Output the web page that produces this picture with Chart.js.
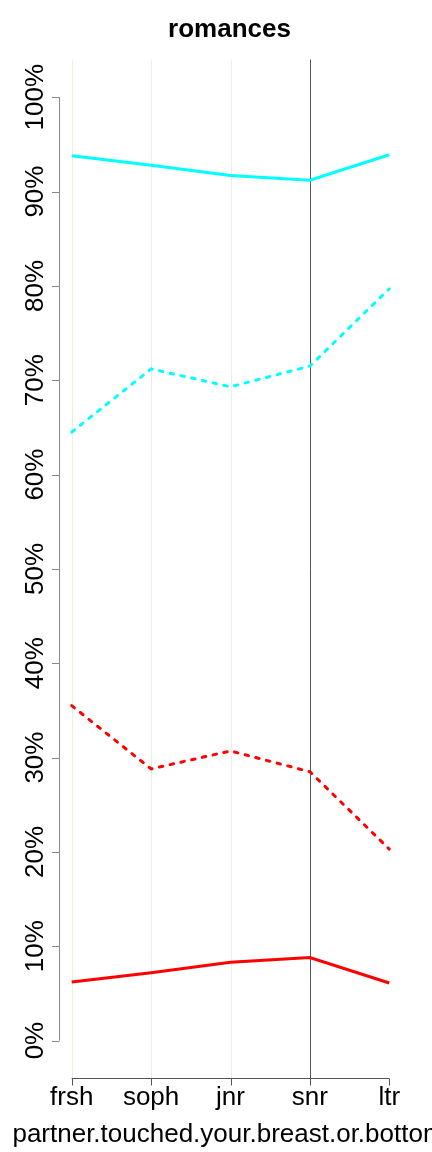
<!DOCTYPE html>
<html>
<head>
<meta charset="utf-8">
<script src="https://cdn.jsdelivr.net/npm/chart.js@4.4.0/dist/chart.umd.min.js"></script>
<style>
  html, body { margin: 0; padding: 0; background: #ffffff; }
  #wrap { width: 432px; height: 1152px; position: relative; }
</style>
</head>
<body>
<div id="wrap"><canvas id="c" width="432" height="1152"></canvas></div>
<script>
const categories = ['frsh', 'soph', 'jnr', 'snr', 'ltr'];
const cyanSolid  = [93.8, 92.8, 91.7, 91.2, 93.9];
const cyanDashed = [64.5, 71.2, 69.3, 71.5, 79.7];
const redDashed  = [35.5, 28.8, 30.7, 28.5, 20.3];
const redSolid   = [6.2, 7.2, 8.3, 8.8, 6.1];
const yTicks     = [0, 10, 20, 30, 40, 50, 60, 70, 80, 90, 100];
const yTickLabels = yTicks.map(v => v + '%');
const chartTitle = 'romances';
const xAxisTitle = 'partner.touched.your.breast.or.bottom';

const FONT = '"Liberation Sans", Arial, Helvetica, sans-serif';

function pts(arr) { return arr.map((v, i) => ({ x: i + 1, y: v })); }

const decor = {
  id: 'decor',
  beforeDatasetsDraw(chart) {
    const ctx = chart.ctx, xs = chart.scales.x, area = chart.chartArea;
    ctx.save();
    categories.forEach((c, i) => {
      if (i === categories.length - 1) return;
      const x = Math.round(xs.getPixelForValue(i + 1)) + 0.5;
      ctx.strokeStyle = (c === 'snr') ? '#555555' : '#eeeddf';
      ctx.lineWidth = 1;
      ctx.beginPath();
      ctx.moveTo(x, area.top);
      ctx.lineTo(x, area.bottom);
      ctx.stroke();
    });
    ctx.restore();
  },
  afterDraw(chart) {
    const ctx = chart.ctx, xs = chart.scales.x, ys = chart.scales.y, area = chart.chartArea;
    ctx.save();
    // y axis
    const ax = Math.round(area.left) + 0.5;
    ctx.strokeStyle = '#888888';
    ctx.lineWidth = 1;
    ctx.beginPath();
    ctx.moveTo(ax, ys.getPixelForValue(yTicks[0]));
    ctx.lineTo(ax, ys.getPixelForValue(yTicks[yTicks.length - 1]));
    yTicks.forEach(v => {
      const y = Math.round(ys.getPixelForValue(v)) + 0.5;
      ctx.moveTo(ax, y);
      ctx.lineTo(ax - 7.5, y);
    });
    ctx.stroke();
    ctx.fillStyle = '#000000';
    ctx.font = '26px ' + FONT;
    ctx.textAlign = 'center';
    ctx.textBaseline = 'alphabetic';
    yTicks.forEach((v, i) => {
      const y = ys.getPixelForValue(v);
      ctx.save();
      ctx.translate(43, y);
      ctx.rotate(-Math.PI / 2);
      ctx.fillText(yTickLabels[i], 0, 0);
      ctx.restore();
    });
    // x axis
    const ay = Math.round(area.bottom) + 0.5;
    ctx.strokeStyle = '#555555';
    ctx.beginPath();
    ctx.moveTo(xs.getPixelForValue(1), ay);
    ctx.lineTo(xs.getPixelForValue(categories.length), ay);
    categories.forEach((c, i) => {
      const x = Math.round(xs.getPixelForValue(i + 1)) + 0.5;
      ctx.moveTo(x, ay);
      ctx.lineTo(x, ay + 7);
    });
    ctx.stroke();
    categories.forEach((c, i) => {
      ctx.fillText(c, xs.getPixelForValue(i + 1), 1105);
    });
    // titles
    const cx = (area.left + area.right) / 2;
    ctx.fillText(xAxisTitle, cx - 2, 1142);
    ctx.font = 'bold 26px ' + FONT;
    ctx.fillText(chartTitle, cx - 1, 37);
    ctx.restore();
  }
};

new Chart(document.getElementById('c'), {
  type: 'line',
  data: {
    datasets: [
      { label: 'cyan solid', data: pts(cyanSolid), borderColor: '#00FFFF', borderWidth: 3 },
      { label: 'cyan dashed', data: pts(cyanDashed), borderColor: '#00FFFF', borderWidth: 3, borderDash: [3.5, 7.5], borderCapStyle: 'round' },
      { label: 'red dashed', data: pts(redDashed), borderColor: '#FF0000', borderWidth: 3, borderDash: [3.5, 7.5], borderCapStyle: 'round' },
      { label: 'red solid', data: pts(redSolid), borderColor: '#FF0000', borderWidth: 3 }
    ]
  },
  options: {
    responsive: false,
    animation: false,
    events: [],
    layout: { padding: { left: 59, right: 30, top: 59.5, bottom: 73.7 } },
    elements: { point: { radius: 0 }, line: { tension: 0, fill: false } },
    plugins: { legend: { display: false }, title: { display: false }, tooltip: { enabled: false } },
    scales: {
      x: { type: 'linear', min: 0.84, max: 5.16, display: false },
      y: { type: 'linear', min: -4, max: 104, display: false }
    }
  },
  plugins: [decor]
});
</script>
</body>
</html>
